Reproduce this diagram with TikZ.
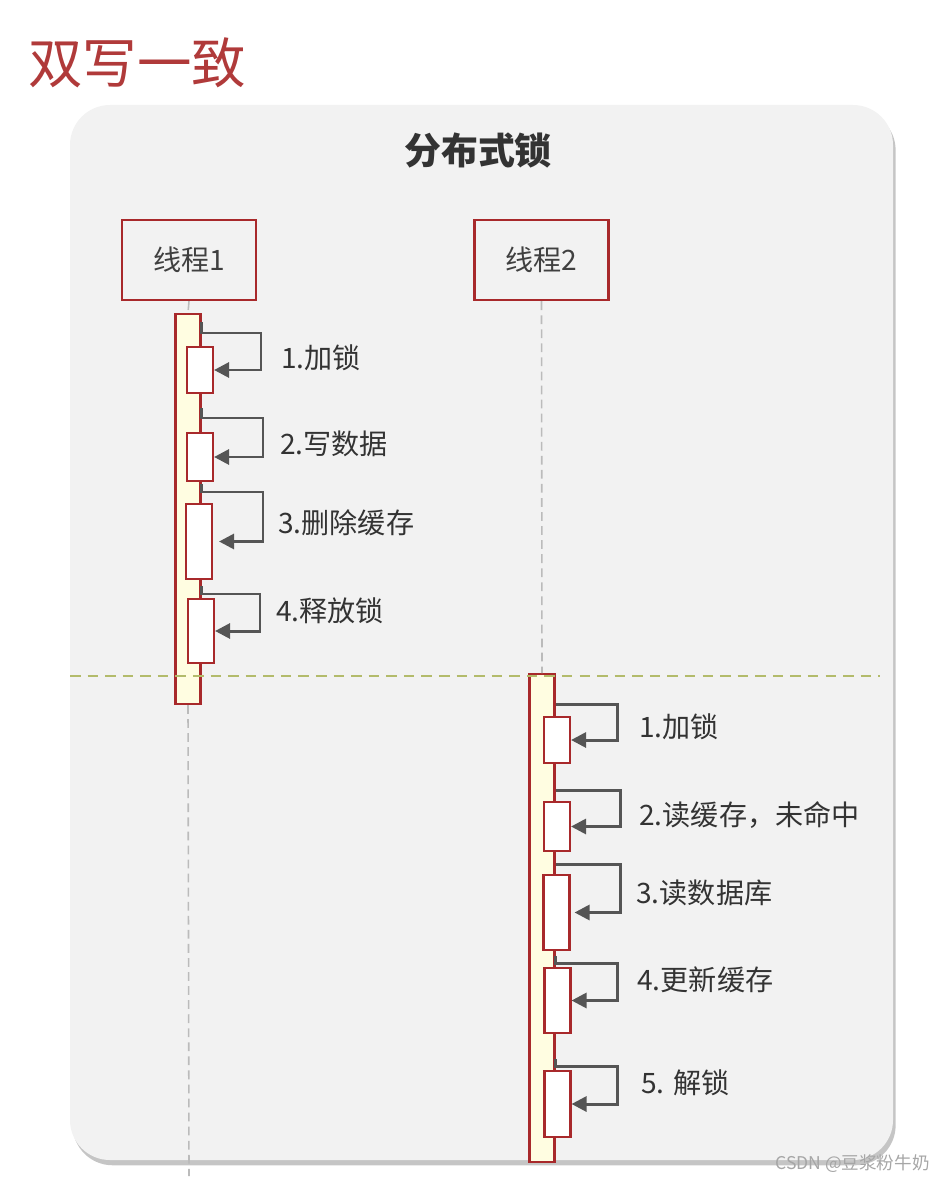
\documentclass[tikz,border=0pt]{standalone}
\usepackage{fontspec}
\setmainfont{Noto Sans CJK SC}
\usepackage{tikz}
\usetikzlibrary{positioning,shadows,calc,arrows.meta}

\definecolor{titlered}{HTML}{B03A3A}
\definecolor{framered}{HTML}{A8292B}
\definecolor{panelgray}{HTML}{F2F2F2}
\definecolor{arrowgray}{HTML}{555555}
\definecolor{lifegray}{HTML}{BBBBBB}
\definecolor{barfill}{HTML}{FFFDE1}
\definecolor{splitgreen}{HTML}{B3BB6B}

\tikzset{
  threadbox/.style={draw=framered, line width=1.4pt, minimum width=2.68cm, minimum height=1.6cm, font=\fontsize{16}{19}\selectfont, text=black!75},
  actbar/.style={draw=framered, line width=1.2pt, fill=barfill, minimum width=0.5cm, inner sep=0pt},
  callbox/.style={draw=framered, line width=1.2pt, fill=white, minimum width=0.52cm, inner sep=0pt},
  selfcall/.style={-{Triangle[length=0.3cm,width=0.3cm]}, draw=arrowgray, line width=1.7pt},
  steplabel/.style={anchor=west, inner sep=0pt, font=\fontsize{16}{19}\selectfont, text=black!80},
  lifeline/.style={draw=lifegray, dash pattern=on 5pt off 3pt, line width=0.9pt}
}

\begin{document}
\begin{tikzpicture}[x=0.02cm, y=-0.02cm]
            \useasboundingbox (0,0) rectangle (935,1179);

            % Titre de la page
            \node[anchor=west, inner sep=0pt, text=titlered, font=\fontsize{31}{36}\selectfont] (title) at (28,63) {双写一致};

            % Panneau de fond
            \fill[panelgray, rounded corners=0.8cm, drop shadow={shadow xshift=1.5pt, shadow yshift=-3pt, fill=black!45}] (70,105) rectangle (893,1160);
            \node[font=\fontsize{21}{24}\selectfont\bfseries, text=black!80] (panelhead) at (478,150) {分布式锁};

            % Les deux threads
            \node[threadbox] (thread1) at (189,260) {线程1};
            \node[threadbox] (thread2) at (541.5,260) {线程2};

            % Barres d'activation
            \node[actbar, minimum height=7.8cm] (bar1) at (188,509) {};
            \node[actbar, minimum height=9.76cm] (bar2) at (542,918) {};

            % Lignes de vie
            \coordinate (end1) at (189,1176);
            \draw[lifeline] (thread1.south) -- (bar1.north);
            \draw[lifeline] (bar1.south) -- (end1);
            \draw[lifeline] (thread2.south) -- (bar2.north);

            % Thread 1: appels
            \node[callbox, minimum height=0.92cm] (call1a) at (200,370) {};
            \node[callbox, minimum height=0.96cm] (call1b) at (200,457) {};
            \node[callbox, minimum height=1.5cm] (call1c) at (199,541.5) {};
            \node[callbox, minimum height=1.28cm] (call1d) at (201,631) {};

            \draw[selfcall] (bar1.east |- 0,322) |- (261,333) |- (call1a.east);
            \draw[selfcall] (bar1.east |- 0,408) |- (263,418) |- (call1b.east);
            \draw[selfcall] (bar1.east |- 0,484) |- (263,492) |- ([xshift=0.12cm]call1c.east);
            \draw[selfcall] (bar1.east |- 0,586) |- (260,594) |- (call1d.east);

            \node[steplabel] (lab1a) at (281,358) {1.加锁};
            \node[steplabel] (lab1b) at (280,444) {2.写数据};
            \node[steplabel] (lab1c) at (278,523) {3.删除缓存};
            \node[steplabel] (lab1d) at (276,611) {4.释放锁};

            % Separation
            \coordinate (splitL) at (70,676);
            \coordinate (splitR) at (880,676);
            \draw[splitgreen, line width=1pt, dash pattern=on 6pt off 4pt] (splitL) -- (splitR);

            % Thread 2: appels
            \node[callbox, minimum height=0.92cm] (call2a) at (557,740) {};
            \node[callbox, minimum height=0.98cm] (call2b) at (557,826.5) {};
            \node[callbox, minimum height=1.5cm] (call2c) at (556.5,912.5) {};
            \node[callbox, minimum height=1.3cm] (call2d) at (557.5,1000.5) {};
            \node[callbox, minimum height=1.32cm] (call2e) at (557.5,1104) {};

            \draw[selfcall] (bar2.east |- 0,704) -- (617,704) |- (call2a.east);
            \draw[selfcall] (bar2.east |- 0,790) -- (620,790) |- (call2b.east);
            \draw[selfcall] (bar2.east |- 0,864) -- (620,864) |- ([xshift=0.08cm]call2c.east);
            \draw[selfcall] (bar2.east |- 0,956) |- (617,963) |- (call2d.east);
            \draw[selfcall] (bar2.east |- 0,1059) |- (617,1066) |- (call2e.east);

            \node[steplabel] (lab2a) at (639,727) {1.加锁};
            \node[steplabel] (lab2b) at (639,815) {2.读缓存，未命中};
            \node[steplabel] (lab2c) at (636,893) {3.读数据库};
            \node[steplabel] (lab2d) at (637,980) {4.更新缓存};
            \node[steplabel] (lab2e) at (641,1083) {5. 解锁};

            % Filigrane
            \node[anchor=east, inner sep=0pt, text=black!35, font=\fontsize{10}{12}\selectfont] (mark) at (930,1164) {CSDN @豆浆粉牛奶};
        \end{tikzpicture}
\end{document}
